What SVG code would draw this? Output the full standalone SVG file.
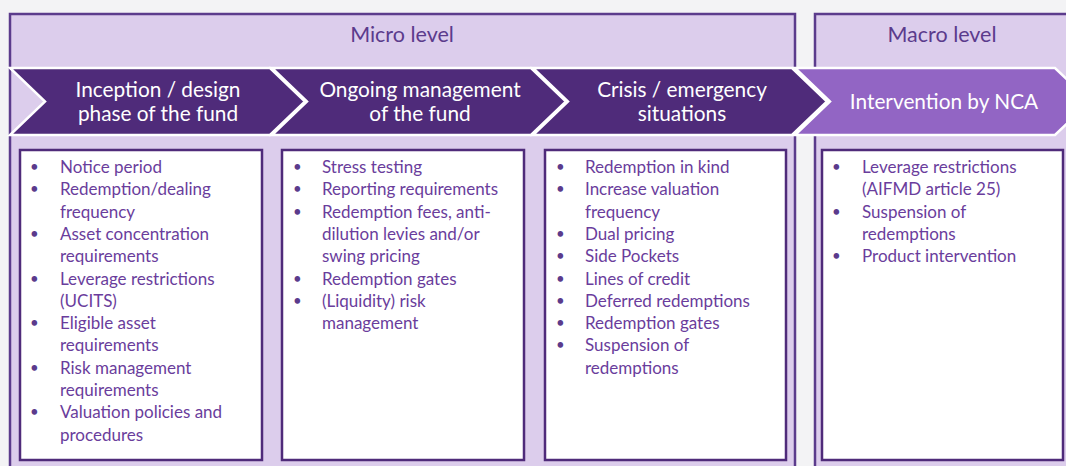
<svg xmlns="http://www.w3.org/2000/svg" width="1066" height="466" viewBox="0 0 1066 466">
  <style>
    .panel { fill: #dccdec; stroke: #5b3b8c; stroke-width: 2.5; }
    .level { font-family: Lato, "Open Sans", sans-serif; font-size: 21.5px; fill: #5b3b8c; text-anchor: middle; }
    .chev { stroke: #ffffff; stroke-width: 2.5; stroke-linejoin: miter; }
    .dark { fill: #4f2b7a; }
    .light { fill: #9265c4; }
    .ctext { font-family: Lato, "Open Sans", sans-serif; font-size: 20.8px; fill: #ffffff; text-anchor: middle; }
    .box { fill: #ffffff; stroke: #4f2b7a; stroke-width: 2.5; }
    .item { font-family: Lato, "Open Sans", sans-serif; font-size: 17px; fill: #6a3d9c; }
    .dot { font-family: Lato, "Open Sans", sans-serif; font-size: 15px; fill: #5b3b8c; }
  </style>

  <rect width="1066" height="466" fill="#f3f3f5"/>

  <!-- level panels -->
  <g id="micro-level">
    <rect class="panel" x="10" y="14" width="785" height="470"/>
    <text class="level" x="402" y="42">Micro level</text>
  </g>
  <g id="macro-level">
    <rect class="panel" x="815" y="14" width="270" height="470"/>
    <text class="level" x="942" y="42">Macro level</text>
  </g>

  <!-- process chevrons -->
  <g id="phase-inception">
    <polygon class="chev dark" points="10,68 270,68 305,101.5 270,135 10,135 45,101.5"/>
    <text class="ctext" x="158" y="97">Inception / design</text>
    <text class="ctext" x="158" y="121">phase of the fund</text>
  </g>
  <g id="phase-ongoing">
    <polygon class="chev dark" points="272,68 531,68 566,101.5 531,135 272,135 307,101.5"/>
    <text class="ctext" x="420" y="97">Ongoing management</text>
    <text class="ctext" x="420" y="121">of the fund</text>
  </g>
  <g id="phase-crisis">
    <polygon class="chev dark" points="533,68 792,68 827,101.5 792,135 533,135 568,101.5"/>
    <text class="ctext" x="682" y="97">Crisis / emergency</text>
    <text class="ctext" x="682" y="121">situations</text>
  </g>
  <g id="phase-intervention">
    <polygon class="chev light" points="795,68 1055,68 1090,101.5 1055,135 795,135 830,101.5"/>
    <text class="ctext" x="944" y="109">Intervention by NCA</text>
  </g>

  <!-- measure lists -->
  <g id="list-inception">
    <rect class="box" x="20" y="150" width="242" height="310"/>
    <text class="dot">
      <tspan x="30" y="172">•</tspan><tspan x="30" y="194.3">•</tspan><tspan x="30" y="238.9">•</tspan>
      <tspan x="30" y="283.5">•</tspan><tspan x="30" y="328.1">•</tspan><tspan x="30" y="372.7">•</tspan>
      <tspan x="30" y="417.3">•</tspan>
    </text>
    <text class="item">
      <tspan x="60" y="173">Notice period</tspan>
      <tspan x="60" y="195.3">Redemption/dealing</tspan>
      <tspan x="60" y="217.6">frequency</tspan>
      <tspan x="60" y="239.9">Asset concentration</tspan>
      <tspan x="60" y="262.2">requirements</tspan>
      <tspan x="60" y="284.5">Leverage restrictions</tspan>
      <tspan x="60" y="306.8">(UCITS)</tspan>
      <tspan x="60" y="329.1">Eligible asset</tspan>
      <tspan x="60" y="351.4">requirements</tspan>
      <tspan x="60" y="373.7">Risk management</tspan>
      <tspan x="60" y="396">requirements</tspan>
      <tspan x="60" y="418.3">Valuation policies and</tspan>
      <tspan x="60" y="440.6">procedures</tspan>
    </text>
  </g>
  <g id="list-ongoing">
    <rect class="box" x="282" y="150" width="242" height="310"/>
    <text class="dot">
      <tspan x="293" y="172">•</tspan><tspan x="293" y="194.3">•</tspan><tspan x="293" y="216.6">•</tspan>
      <tspan x="293" y="283.5">•</tspan><tspan x="293" y="305.8">•</tspan>
    </text>
    <text class="item">
      <tspan x="322" y="173">Stress testing</tspan>
      <tspan x="322" y="195.3">Reporting requirements</tspan>
      <tspan x="322" y="217.6">Redemption fees, anti-</tspan>
      <tspan x="322" y="239.9">dilution levies and/or</tspan>
      <tspan x="322" y="262.2">swing pricing</tspan>
      <tspan x="322" y="284.5">Redemption gates</tspan>
      <tspan x="322" y="306.8">(Liquidity) risk</tspan>
      <tspan x="322" y="329.1">management</tspan>
    </text>
  </g>
  <g id="list-crisis">
    <rect class="box" x="545" y="150" width="241" height="310"/>
    <text class="dot">
      <tspan x="556" y="172">•</tspan><tspan x="556" y="194.3">•</tspan><tspan x="556" y="238.9">•</tspan>
      <tspan x="556" y="261.2">•</tspan><tspan x="556" y="283.5">•</tspan><tspan x="556" y="305.8">•</tspan>
      <tspan x="556" y="328.1">•</tspan><tspan x="556" y="350.4">•</tspan>
    </text>
    <text class="item">
      <tspan x="585" y="173">Redemption in kind</tspan>
      <tspan x="585" y="195.3">Increase valuation</tspan>
      <tspan x="585" y="217.6">frequency</tspan>
      <tspan x="585" y="239.9">Dual pricing</tspan>
      <tspan x="585" y="262.2">Side Pockets</tspan>
      <tspan x="585" y="284.5">Lines of credit</tspan>
      <tspan x="585" y="306.8">Deferred redemptions</tspan>
      <tspan x="585" y="329.1">Redemption gates</tspan>
      <tspan x="585" y="351.4">Suspension of</tspan>
      <tspan x="585" y="373.7">redemptions</tspan>
    </text>
  </g>
  <g id="list-intervention">
    <rect class="box" x="822" y="150" width="241" height="310"/>
    <text class="dot">
      <tspan x="832" y="172">•</tspan><tspan x="832" y="216.6">•</tspan><tspan x="832" y="261.2">•</tspan>
    </text>
    <text class="item">
      <tspan x="862" y="173">Leverage restrictions</tspan>
      <tspan x="862" y="195.3">(AIFMD article 25)</tspan>
      <tspan x="862" y="217.6">Suspension of</tspan>
      <tspan x="862" y="239.9">redemptions</tspan>
      <tspan x="862" y="262.2">Product intervention</tspan>
    </text>
  </g>

  <!-- no connectors: the chevrons themselves show the sequence -->
  <g id="connectors"/>
</svg>
